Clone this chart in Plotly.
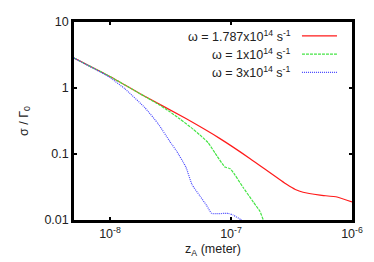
import plotly.graph_objects as go

# Data (z_A in meters, sigma / Gamma_0)
z_red = [5.04e-9, 1e-8, 1.77e-8, 4.17e-8, 8.11e-8, 1.44e-7, 2.9e-7, 3.4e-7, 3.94e-7, 5.44e-7, 7.52e-7, 1e-6]
s_red = [2.84, 1.49, 0.82, 0.35, 0.171, 0.085, 0.0344, 0.029, 0.0263, 0.0238, 0.0223, 0.0188]

z_green = [5.04e-9, 1e-8, 1.77e-8, 2.59e-8, 3.13e-8, 3.79e-8, 4.86e-8, 5.76e-8, 6.46e-8, 7.37e-8,
           8.92e-8, 9.82e-8, 1.08e-7, 1.26e-7, 1.53e-7, 1.74e-7, 1.85e-7, 1.95e-7]
s_green = [2.84, 1.49, 0.82, 0.548, 0.435, 0.338, 0.238, 0.182, 0.149, 0.104,
           0.0633, 0.06, 0.048, 0.0311, 0.0187, 0.0134, 0.0100, 0.0088]

z_blue = [5.04e-9, 9.1e-9, 1e-8, 1.33e-8, 1.95e-8, 2.51e-8, 3.13e-8, 3.56e-8, 4.25e-8, 4.76e-8,
          5.55e-8, 6.3e-8, 6.92e-8, 9.44e-8, 1.04e-7, 1.21e-7, 1.27e-7]
s_blue = [2.84, 1.6, 1.44, 0.97, 0.50, 0.284, 0.154, 0.11, 0.0627, 0.0344,
          0.023, 0.0165, 0.0126, 0.0126, 0.0119, 0.0101, 0.0095]

series_names = ["ω = 1.787x10<sup>14</sup> s<sup>-1</sup>",
                "ω = 1x10<sup>14</sup> s<sup>-1</sup>",
                "ω = 3x10<sup>14</sup> s<sup>-1</sup>"]
series_colors = ["#ff1a1a", "#44e444", "#4a4aff"]
series_dash = ["solid", "3px,1px", "1px,1px"]

x_tickvals = [1e-8, 1e-7, 1e-6]
x_ticktext = ["10<sup>-8</sup>", "10<sup>-7</sup>", "10<sup>-6</sup>"]
y_tickvals = [0.01, 0.1, 1, 10]
y_ticktext = ["0.01", "0.1", "1", "10"]

FONT = "Liberation Sans, Arial, sans-serif"
TXT = "#222222"

fig = go.Figure()
for zs, ss, name, col, dash in zip([z_red, z_green, z_blue], [s_red, s_green, s_blue],
                                   series_names, series_colors, series_dash):
    fig.add_trace(go.Scatter(x=zs, y=ss, mode="lines", name=name,
                             line=dict(color=col, width=1.2, dash=dash, shape="spline", smoothing=0.4),
                             showlegend=False))

# Legend (text left of sample, like gnuplot)
leg_y = [0.93, 0.838, 0.746]
for i, (name, col, dash) in enumerate(zip(series_names, series_colors, series_dash)):
    fig.add_annotation(xref="paper", yref="paper", x=0.789, y=leg_y[i], text=name,
                       showarrow=False, xanchor="right", yanchor="middle",
                       font=dict(family=FONT, size=12.5, color=TXT))
    fig.add_shape(type="line", xref="paper", yref="paper", x0=0.82, x1=0.946,
                  y0=leg_y[i], y1=leg_y[i], line=dict(color=col, width=1.2, dash=dash))

axis_common = dict(showgrid=False, zeroline=False, showline=True, linecolor="black",
                   linewidth=2.5, mirror="ticks", ticks="inside", ticklen=3, tickwidth=2,
                   tickcolor="black", tickfont=dict(family=FONT, size=12.5, color=TXT))

fig.update_xaxes(type="log", range=[-8.2975, -6], tickvals=x_tickvals, ticktext=x_ticktext,
                 title=dict(text="z<sub>A</sub> (meter)", font=dict(family=FONT, size=12.5, color=TXT),
                            standoff=5),
                 **axis_common)
fig.update_yaxes(type="log", range=[-2, 1], tickvals=y_tickvals, ticktext=y_ticktext,
                 title=dict(text="σ / Γ<sub>0</sub>", font=dict(family=FONT, size=12.5, color=TXT),
                            standoff=14),
                 **axis_common)

# The page body has an 8px default margin, so the figure is shrunk by 8px
# and its own left/top margins are reduced to keep the plot area in place.
fig.update_layout(width=366, height=254, margin=dict(l=66, r=22, t=7, b=40),
                  plot_bgcolor="white", paper_bgcolor="white")

fig.write_html("out.html")
